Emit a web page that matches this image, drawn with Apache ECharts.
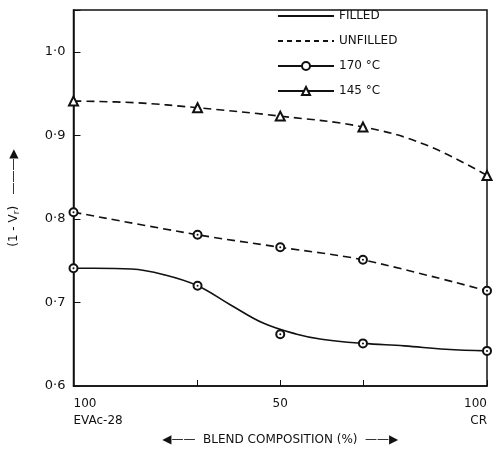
<!DOCTYPE html>
<html>
<head>
<meta charset="utf-8">
<script src="https://cdn.jsdelivr.net/npm/echarts@6/dist/echarts.min.js"></script>
<style>
  html, body { margin: 0; padding: 0; background: #fff; }
  #chart { width: 499px; height: 451px; }
</style>
</head>
<body>
<div id="chart"></div>
<script>
// blend composition, % CR (0 = 100 EVAc-28, 100 = 100 CR)
const compCR = [0, 30, 50, 70, 100];
const filled170 = [0.741, 0.720, 0.662, 0.651, 0.642];
const unfilled170 = [0.808, 0.781, 0.766, 0.751, 0.714];
const unfilled145 = [0.941, 0.933, 0.923, 0.910, 0.852];

// drawn curves (the filled one misses the 50 % point)
const filledCurveX = [0, 5, 14, 22, 30, 38, 46, 54, 60, 70, 80, 90, 100];
const filledCurveY = [0.741, 0.741, 0.740, 0.733, 0.720, 0.697, 0.675, 0.662, 0.656, 0.651, 0.648, 0.644, 0.642];
const unfilled145CurveX = [0, 15, 30, 50, 70, 85, 100];
const unfilled145CurveY = [0.941, 0.939, 0.933, 0.923, 0.910, 0.889, 0.852];

const xTicks = [0, 30, 50, 70, 100];
const xLabels = [0, 50, 100];

const pairs = (xs, ys) => xs.map((x, i) => [x, ys[i]]);
const font = "DejaVu Sans";
const ink = "#111";

const chart = echarts.init(document.getElementById("chart"));

const option = {
  backgroundColor: "#fff",
  animation: false,
  textStyle: { fontFamily: font, color: ink },
  grid: {
    left: 70,
    right: 12,
    top: 10,
    bottom: 65,
    show: true,
    borderColor: ink,
    borderWidth: 1.5,
  },
  legend: {
    data: [
      { name: "FILLED", itemStyle: { opacity: 0 } },
      { name: "UNFILLED", itemStyle: { opacity: 0 } },
      { name: "170 °C" },
      { name: "145 °C" },
    ],
    orient: "vertical",
    left: 272,
    top: 5,
    itemWidth: 56,
    itemHeight: 10,
    itemGap: 13,
    textStyle: { fontFamily: font, fontSize: 12, color: ink },
  },
  xAxis: {
    type: "value",
    min: 0,
    max: 100,
    name: "◀——  BLEND COMPOSITION (%)  ——▶",
    nameLocation: "middle",
    nameGap: 44,
    nameTextStyle: { fontSize: 12, color: ink },
    axisLine: { lineStyle: { color: ink, width: 1.5 } },
    axisTick: { inside: true, length: 6, customValues: xTicks, lineStyle: { color: ink } },
    axisLabel: {
      customValues: xLabels,
      margin: 9,
      fontSize: 12,
      color: ink,
      lineHeight: 17,
      alignMinLabel: "left",
      alignMaxLabel: "right",
      formatter: function (v) {
        if (v === 0) return "100\nEVAc-28";
        if (v === 100) return "100\nCR";
        return String(v);
      },
    },
    splitLine: { show: false },
  },
  yAxis: {
    type: "value",
    min: 0.6,
    max: 1.05,
    interval: 0.1,
    name: "{t|(1 - V}{s|r}{t|)   ———▶}",
    nameLocation: "middle",
    nameRotate: 90,
    nameGap: 52,
    nameTextStyle: {
      rich: {
        t: { fontFamily: font, fontSize: 12, color: ink },
        s: { fontFamily: font, fontSize: 9, color: ink, padding: [6, 0, 0, 0] },
      },
    },
    axisLine: { lineStyle: { color: ink, width: 1.5 } },
    axisTick: { inside: true, length: 7, lineStyle: { color: ink } },
    axisLabel: {
      fontSize: 13,
      color: ink,
      margin: 8,
      formatter: function (v) {
        if (v > 1.01) return "";
        return v.toFixed(1).replace(".", "·");
      },
    },
    splitLine: { show: false },
  },
  series: [
    // legend-only entries
    { name: "FILLED", type: "line", data: [], symbol: "none", lineStyle: { color: ink, width: 1.2 }, itemStyle: { color: ink } },
    { name: "UNFILLED", type: "line", data: [], symbol: "none", lineStyle: { color: ink, width: 1.2, type: [5, 4] }, itemStyle: { color: ink } },
    { name: "170 °C", type: "line", data: [], symbol: "emptyCircle", symbolSize: 6, lineStyle: { color: ink, width: 1.2 }, itemStyle: { color: ink, borderWidth: 1 } },
    { name: "145 °C", type: "line", data: [], symbol: "emptyTriangle", symbolSize: 7, lineStyle: { color: ink, width: 1.2 }, itemStyle: { color: ink, borderWidth: 1 } },

    // filled, 170 °C : drawn curve + points
    {
      name: "filled-curve",
      type: "line",
      data: pairs(filledCurveX, filledCurveY),
      smooth: 0.4,
      symbol: "none",
      lineStyle: { color: ink, width: 1.6 },
      z: 2,
    },
    {
      name: "filled-170",
      type: "scatter",
      data: pairs(compCR, filled170),
      symbol: "emptyCircle",
      symbolSize: 8,
      itemStyle: { color: ink, borderWidth: 1.2, opacity: 1 },
      z: 3,
    },
    // unfilled, 170 °C
    {
      name: "unfilled-170",
      type: "line",
      data: pairs(compCR, unfilled170),
      smooth: 0.3,
      symbol: "emptyCircle",
      symbolSize: 8,
      clip: false,
      lineStyle: { color: ink, width: 1.6, type: [8, 5] },
      itemStyle: { color: ink, borderWidth: 1.2 },
      z: 3,
    },
    // unfilled, 145 °C : drawn curve + points
    {
      name: "unfilled-145-curve",
      type: "line",
      data: pairs(unfilled145CurveX, unfilled145CurveY),
      smooth: 0.4,
      symbol: "none",
      lineStyle: { color: ink, width: 1.6, type: [8, 5] },
      z: 2,
    },
    {
      name: "unfilled-145",
      type: "scatter",
      data: pairs(compCR, unfilled145),
      symbol: "emptyTriangle",
      symbolSize: 9,
      clip: false,
      itemStyle: { color: ink, borderWidth: 1.2, opacity: 1 },
      z: 3,
    },
    // centre dots of the circle markers
    {
      name: "dots",
      type: "scatter",
      data: pairs(compCR, filled170).concat(pairs(compCR, unfilled170)),
      symbol: "circle",
      symbolSize: 2,
      itemStyle: { color: ink, opacity: 1 },
      z: 4,
    },
  ],
};

chart.setOption(option);
</script>
</body>
</html>
